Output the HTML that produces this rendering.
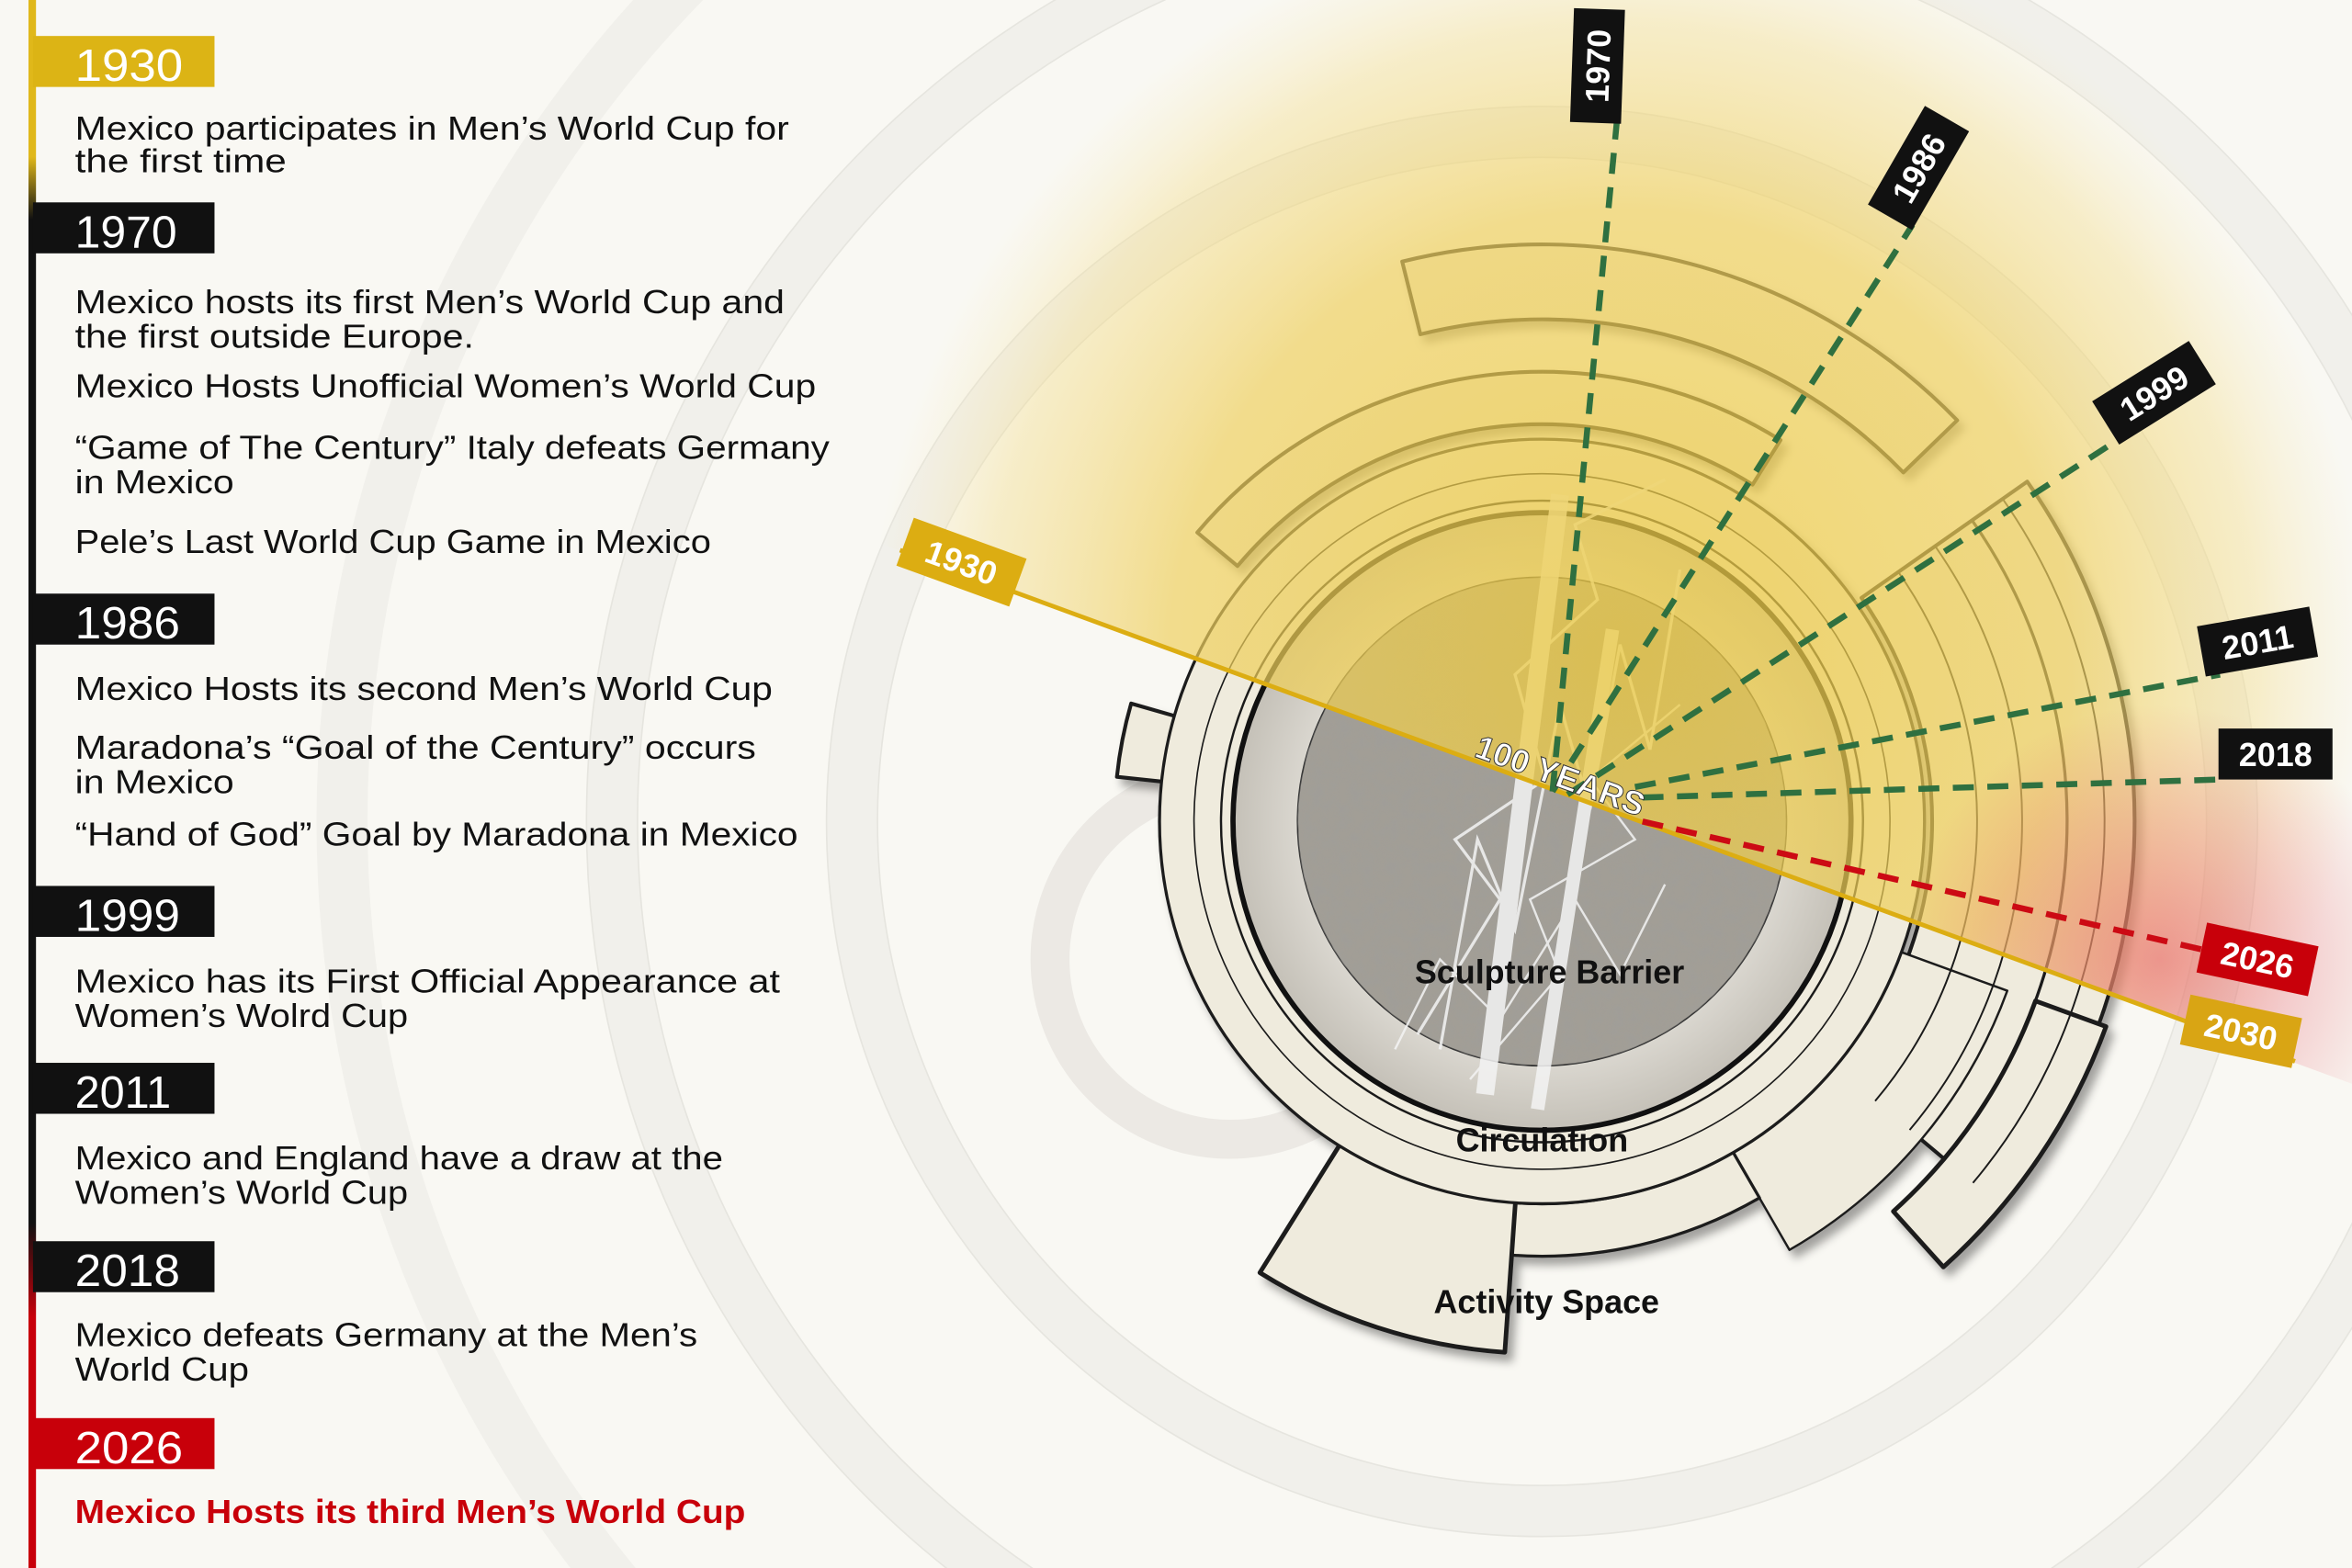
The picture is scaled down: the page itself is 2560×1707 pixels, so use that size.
<!DOCTYPE html>
<html><head><meta charset="utf-8"><style>
html,body{margin:0;padding:0;background:#f9f8f3;overflow:hidden;width:2560px;height:1707px}
svg{display:block}
text{font-family:"Liberation Sans",sans-serif}
</style></head><body>
<svg width="2560" height="1707" viewBox="0 0 1568 1046" preserveAspectRatio="none" xmlns="http://www.w3.org/2000/svg">
<defs>
<linearGradient id="tl" x1="0" y1="0" x2="0" y2="1">
<stop offset="0" stop-color="#e0b81a"/><stop offset="0.1" stop-color="#e0b81a"/><stop offset="0.14" stop-color="#111"/><stop offset="0.78" stop-color="#111"/><stop offset="0.84" stop-color="#c8000a"/><stop offset="1" stop-color="#c8000a"/>
</linearGradient>
<radialGradient id="glow" cx="1080" cy="440" r="500" gradientUnits="userSpaceOnUse">
<stop offset="0" stop-color="#ecc93e" stop-opacity="0.75"/><stop offset="0.6" stop-color="#efd060" stop-opacity="0.7"/><stop offset="0.85" stop-color="#f3dc88" stop-opacity="0.4"/><stop offset="1" stop-color="#f6e6a8" stop-opacity="0"/>
</radialGradient>
<radialGradient id="redg" cx="1440" cy="640" r="170" gradientUnits="userSpaceOnUse">
<stop offset="0" stop-color="#e45060" stop-opacity="0.55"/><stop offset="1" stop-color="#e45060" stop-opacity="0"/>
</radialGradient>
<radialGradient id="disk" cx="1028" cy="548" r="205" gradientUnits="userSpaceOnUse">
<stop offset="0.75" stop-color="#dedbd4"/><stop offset="1" stop-color="#c5c1b8"/>
</radialGradient>
<clipPath id="above"><polygon points="0,0 1568,0 1568,723 0,147"/></clipPath>
<filter id="tex"><feTurbulence type="fractalNoise" baseFrequency="0.12" numOctaves="2" seed="3"/><feColorMatrix values="0 0 0 0 0.35  0 0 0 0 0.34  0 0 0 0 0.32  0 0 0 1.4 -0.35"/><feComposite in2="SourceGraphic" operator="in"/></filter>
<filter id="sh" x="-10%" y="-10%" width="130%" height="130%"><feDropShadow dx="4" dy="5" stdDeviation="3" flood-color="#000" flood-opacity="0.35"/></filter>
</defs>
<rect width="1568" height="1046" fill="#f9f8f3"/>
<g fill="none" stroke="#f1f0eb" stroke-width="34">
<circle cx="1028" cy="548" r="460"/><circle cx="1028" cy="548" r="620"/><circle cx="1028" cy="548" r="800"/>
</g>
<g fill="none" stroke="#e6e5df" stroke-width="1">
<circle cx="1028" cy="548" r="443"/><circle cx="1028" cy="548" r="477"/><circle cx="1028" cy="548" r="603"/><circle cx="1028" cy="548" r="637"/>
</g>
<rect x="19" y="0" width="5" height="1046" fill="url(#tl)"/>
<g font-size="30" fill="#fff">
<rect x="22" y="24" width="121" height="34" fill="#dcb415"/><text x="50" y="54" textLength="72" lengthAdjust="spacingAndGlyphs">1930</text>
<rect x="22" y="135" width="121" height="34" fill="#111"/><text x="50" y="165" textLength="68" lengthAdjust="spacingAndGlyphs">1970</text>
<rect x="22" y="396" width="121" height="34" fill="#111"/><text x="50" y="426" textLength="70" lengthAdjust="spacingAndGlyphs">1986</text>
<rect x="22" y="591" width="121" height="34" fill="#111"/><text x="50" y="621" textLength="70" lengthAdjust="spacingAndGlyphs">1999</text>
<rect x="22" y="709" width="121" height="34" fill="#111"/><text x="50" y="739" textLength="64" lengthAdjust="spacingAndGlyphs">2011</text>
<rect x="22" y="828" width="121" height="34" fill="#111"/><text x="50" y="858" textLength="70" lengthAdjust="spacingAndGlyphs">2018</text>
<rect x="22" y="946" width="121" height="34" fill="#c8000a"/><text x="50" y="976" textLength="72" lengthAdjust="spacingAndGlyphs">2026</text>
</g>
<g font-size="22" fill="#111">
<text x="50" y="93" textLength="476" lengthAdjust="spacingAndGlyphs">Mexico participates in Men’s World Cup for</text>
<text x="50" y="115" textLength="141" lengthAdjust="spacingAndGlyphs">the first time</text>
<text x="50" y="209" textLength="473" lengthAdjust="spacingAndGlyphs">Mexico hosts its first Men’s World Cup and</text>
<text x="50" y="232" textLength="266" lengthAdjust="spacingAndGlyphs">the first outside Europe.</text>
<text x="50" y="265" textLength="494" lengthAdjust="spacingAndGlyphs">Mexico Hosts Unofficial Women’s World Cup</text>
<text x="50" y="306" textLength="503" lengthAdjust="spacingAndGlyphs">“Game of The Century” Italy defeats Germany</text>
<text x="50" y="329" textLength="106" lengthAdjust="spacingAndGlyphs">in Mexico</text>
<text x="50" y="369" textLength="424" lengthAdjust="spacingAndGlyphs">Pele’s Last World Cup Game in Mexico</text>
<text x="50" y="467" textLength="465" lengthAdjust="spacingAndGlyphs">Mexico Hosts its second Men’s World Cup</text>
<text x="50" y="506" textLength="454" lengthAdjust="spacingAndGlyphs">Maradona’s “Goal of the Century” occurs</text>
<text x="50" y="529" textLength="106" lengthAdjust="spacingAndGlyphs">in Mexico</text>
<text x="50" y="564" textLength="482" lengthAdjust="spacingAndGlyphs">“Hand of God” Goal by Maradona in Mexico</text>
<text x="50" y="662" textLength="470" lengthAdjust="spacingAndGlyphs">Mexico has its First Official Appearance at</text>
<text x="50" y="685" textLength="222" lengthAdjust="spacingAndGlyphs">Women’s Wolrd Cup</text>
<text x="50" y="780" textLength="432" lengthAdjust="spacingAndGlyphs">Mexico and England have a draw at the</text>
<text x="50" y="803" textLength="222" lengthAdjust="spacingAndGlyphs">Women’s World Cup</text>
<text x="50" y="898" textLength="415" lengthAdjust="spacingAndGlyphs">Mexico defeats Germany at the Men’s</text>
<text x="50" y="921" textLength="116" lengthAdjust="spacingAndGlyphs">World Cup</text>
<text x="50" y="1016" textLength="447" lengthAdjust="spacingAndGlyphs" fill="#c8000a" font-weight="bold">Mexico Hosts its third Men’s World Cup</text>
</g>
<circle cx="820" cy="640" r="120" fill="none" stroke="#e2e0da" stroke-width="26" opacity="0.6"/>
<g stroke="#1a1a1a" stroke-linejoin="round" fill="#efebdd" filter="url(#sh)">
<path d="M934.8,174.5 A385,385 0 0 1 1304.8,280.4 L1268.9,315.2 A335,335 0 0 0 946.9,223 Z" stroke-width="2.5"/>
<path d="M798.2,355.2 A300,300 0 0 1 1187,293.6 L1168.4,323.3 A265,265 0 0 0 825,377.6 Z" stroke-width="2.5"/>
<path d="M1351.5,321.3 A395,395 0 0 1 1330.6,802 L1227.2,715.2 A260,260 0 0 0 1241,398.8 Z" stroke-width="2.5"/>
<path d="M1404,684.8 A400,400 0 0 1 1295.6,845.2 L1262.2,808.1 A350,350 0 0 0 1357,667.7 Z" stroke-width="3"/>
<path d="M1338.2,660.9 A330,330 0 0 1 1193,833.8 L1153,764.5 A250,250 0 0 0 1263,633.5 Z" stroke-width="1.5"/>
<path d="M1173,799.1 A290,290 0 0 1 1007.8,837.3 L1010.2,802.4 A255,255 0 0 0 1155.5,768.8 Z" stroke-width="2"/>
<path d="M1003.2,902.1 A355,355 0 0 1 839.9,849 L895.5,760 A250,250 0 0 0 1010.6,797.4 Z" stroke-width="3"/>
<path d="M744.6,518.2 A285,285 0 0 1 754.1,469.3 L787.8,479 A250,250 0 0 0 779.4,521.9 Z" stroke-width="2.5"/>
<circle cx="1028" cy="548" r="255" stroke-width="2"/>
</g>
<g fill="none" stroke="#1a1a1a">
<path d="M1265.5,381.5 A290,290 0 0 1 1250.1,734.5" stroke-width="1.2"/>
<path d="M1290.1,364.3 A320,320 0 0 1 1273.1,753.8" stroke-width="1.2"/>
<path d="M1314.7,347.1 A350,350 0 0 1 1296.1,773" stroke-width="2"/>
<path d="M1335.1,332.8 A375,375 0 0 1 1315.3,789.1" stroke-width="1.2"/>
<circle cx="1028" cy="548" r="232" stroke-width="1"/>
<circle cx="1028" cy="548" r="214" stroke-width="1.5"/>
</g>
<circle cx="1028" cy="548" r="206" fill="url(#disk)" stroke="#111" stroke-width="3.5"/>
<circle cx="1028" cy="548" r="163" fill="#a29e96" stroke="#333" stroke-width="1"/>
<circle cx="1028" cy="548" r="163" fill="#fff" filter="url(#tex)" opacity="0.9"/>
<g stroke="#f4f4f4" fill="none" opacity="0.85">
<path d="M990,730 L1040,330" stroke-width="12"/><path d="M1025,740 L1075,420" stroke-width="9"/>
<path d="M960,700 L985,560 L1010,620 L1040,470 L1060,540 L1080,430 L1100,500 L1120,380" stroke-width="2"/>
<path d="M945,690 L1000,600 L970,560 L1030,520 L1010,450 L1065,400 L1050,350 L1110,320" stroke-width="2"/>
<path d="M980,720 L1040,650 L1020,600 L1090,560 L1060,520 L1120,470" stroke-width="1.5"/>
<path d="M930,700 L960,640 L1000,680 L1050,600 L1080,650 L1110,590" stroke-width="1.5"/>
</g>
<g clip-path="url(#above)">
<rect width="1568" height="1046" fill="url(#glow)"/>
<rect width="1568" height="1046" fill="url(#redg)"/>
</g>
<line x1="600" y1="367" x2="1530" y2="708" stroke="#dcad12" stroke-width="3"/>
<g fill="none" stroke-width="4" stroke-dasharray="14,9">
<line x1="1035" y1="528" x2="1078" y2="80" stroke="#2f7040"/>
<line x1="1035" y1="528" x2="1275" y2="150" stroke="#2f7040"/>
<line x1="1045" y1="530" x2="1425" y2="285" stroke="#2f7040"/>
<line x1="1090" y1="525" x2="1480" y2="450" stroke="#2f7040"/>
<line x1="1095" y1="532" x2="1480" y2="520" stroke="#2f7040"/>
<line x1="1095" y1="548" x2="1475" y2="635" stroke="#cc0a14"/>
</g>
<text x="1040" y="525" font-size="22" font-weight="bold" fill="#fff" stroke="#333" stroke-width="0.6" text-anchor="middle" transform="rotate(20 1040 518)">100 YEARS</text>
<g font-size="22" font-weight="bold" fill="#fff" text-anchor="middle">
<g transform="translate(641,375) rotate(20)"><rect x="-40" y="-17" width="80" height="34" fill="#dcad12"/><text y="8">1930</text></g>
<g transform="translate(1065,44) rotate(-88)"><rect x="-38" y="-17" width="76" height="34" fill="#111"/><text y="8">1970</text></g>
<g transform="translate(1279,112) rotate(-60)"><rect x="-38" y="-17" width="76" height="34" fill="#111"/><text y="8">1986</text></g>
<g transform="translate(1436,262) rotate(-32)"><rect x="-38" y="-17" width="76" height="34" fill="#111"/><text y="8">1999</text></g>
<g transform="translate(1505,428) rotate(-10)"><rect x="-38" y="-17" width="76" height="34" fill="#111"/><text y="8">2011</text></g>
<g transform="translate(1517,503)"><rect x="-38" y="-17" width="76" height="34" fill="#111"/><text y="8">2018</text></g>
<g transform="translate(1505,640) rotate(12)"><rect x="-38" y="-17" width="76" height="34" fill="#c8000a"/><text y="8">2026</text></g>
<g transform="translate(1494,688) rotate(12)"><rect x="-38" y="-17" width="76" height="34" fill="#d9a514"/><text y="8">2030</text></g>
</g>
<g font-size="22" font-weight="bold" fill="#111" text-anchor="middle">
<text x="1033" y="656">Sculpture Barrier</text>
<text x="1028" y="768">Circulation</text>
<text x="1031" y="876">Activity Space</text>
</g>
</svg>
</body></html>
